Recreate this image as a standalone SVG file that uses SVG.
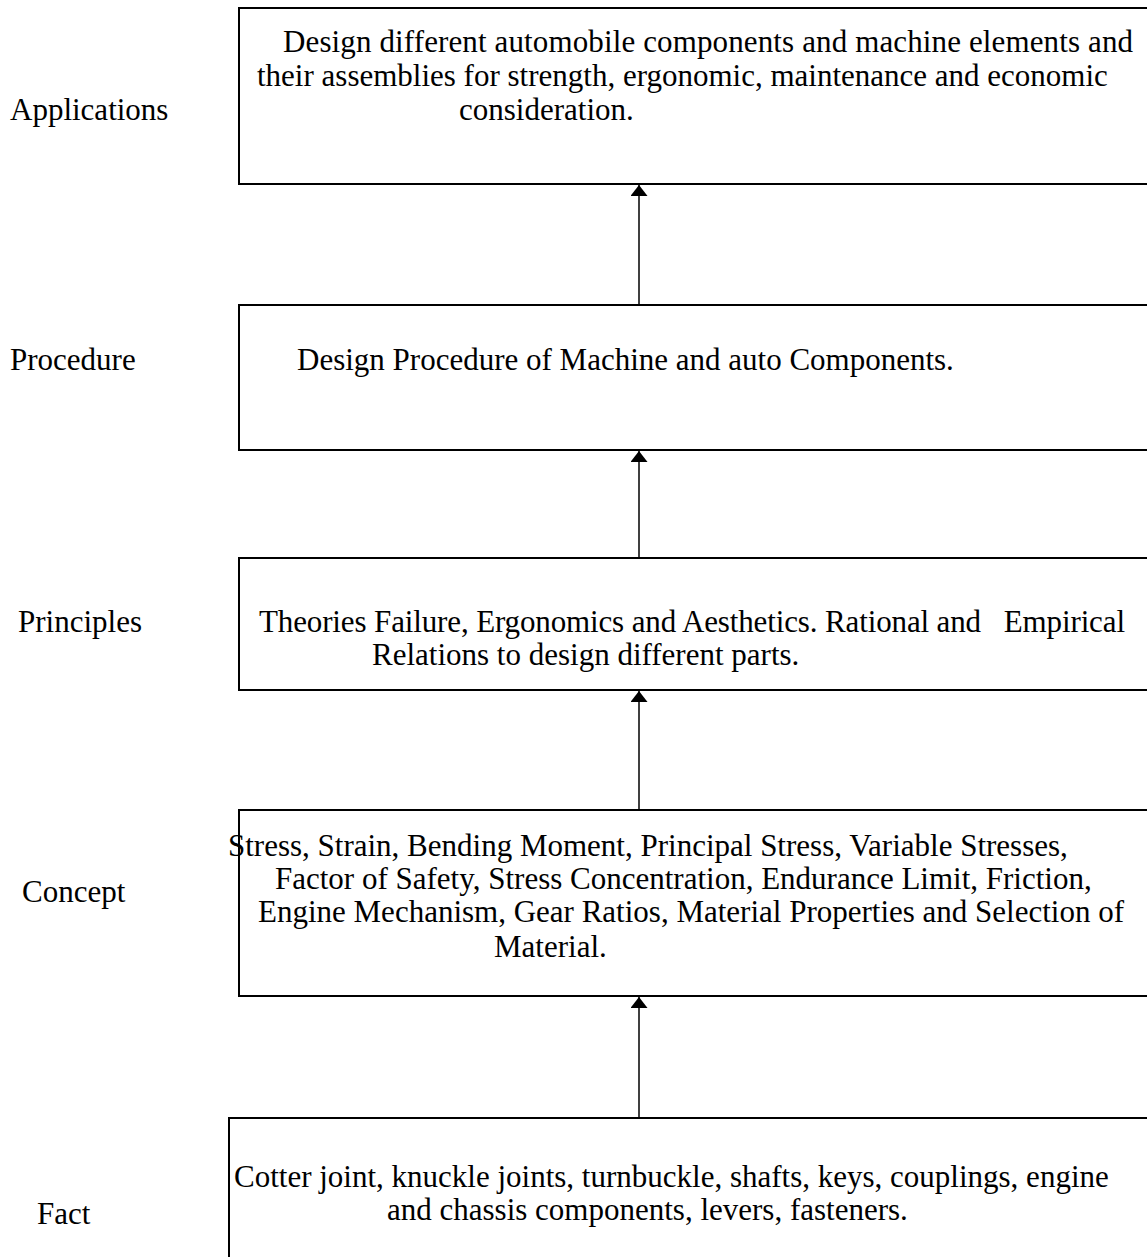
<svg xmlns="http://www.w3.org/2000/svg" width="1147" height="1257" viewBox="0 0 1147 1257">
<defs>
<style>
text{font-family:"Liberation Serif","Times New Roman",serif;font-size:31px;fill:#000;white-space:pre}
.box{fill:#fff;stroke:#000;stroke-width:2}
.conn{stroke:#000;stroke-width:1.5;fill:none}
</style>
<marker id="ah" viewBox="0 0 11 17" refX="11" refY="8.5" markerWidth="11" markerHeight="17" markerUnits="userSpaceOnUse" orient="auto">
<path d="M0,0 L11,8.5 L0,17 Z" fill="#000"/>
</marker>
</defs>
<rect width="1147" height="1257" fill="#fff"/>
<g id="labels">
<text x="10" y="120">Applications</text>
<text x="10" y="370">Procedure</text>
<text x="18" y="632">Principles</text>
<text x="22" y="902">Concept</text>
<text x="37" y="1224">Fact</text>
</g>
<g id="node-applications">
<rect class="box" x="239" y="8" width="920" height="176"/>
<text x="283" y="52" textLength="850" lengthAdjust="spacing">Design different automobile components and machine elements and</text>
<text x="257" y="86">their assemblies for strength, ergonomic, maintenance and economic</text>
<text x="459" y="120">consideration.</text>
</g>
<g id="node-procedure">
<rect class="box" x="239" y="305" width="920" height="145"/>
<text x="297" y="370">Design Procedure of Machine and auto Components.</text>
</g>
<g id="node-principles">
<rect class="box" x="239" y="558" width="920" height="132"/>
<text x="259" y="632" xml:space="preserve" textLength="866" lengthAdjust="spacing">Theories Failure, Ergonomics and Aesthetics. Rational and   Empirical</text>
<text x="372" y="665">Relations to design different parts.</text>
</g>
<g id="node-concept">
<rect class="box" x="239" y="810" width="920" height="186"/>
<text x="228" y="856">Stress, Strain, Bending Moment, Principal Stress, Variable Stresses,</text>
<text x="275" y="889">Factor of Safety, Stress Concentration, Endurance Limit, Friction,</text>
<text x="258" y="922">Engine Mechanism, Gear Ratios, Material Properties and Selection of</text>
<text x="494" y="957">Material.</text>
</g>
<g id="node-fact">
<rect class="box" x="229" y="1118" width="930" height="160"/>
<text x="234" y="1187">Cotter joint, knuckle joints, turnbuckle, shafts, keys, couplings, engine</text>
<text x="387" y="1220">and chassis components, levers, fasteners.</text>
</g>
<g id="connectors">
<line class="conn" x1="639" y1="1118" x2="639" y2="997" marker-end="url(#ah)"/>
<line class="conn" x1="639" y1="810" x2="639" y2="691" marker-end="url(#ah)"/>
<line class="conn" x1="639" y1="558" x2="639" y2="451" marker-end="url(#ah)"/>
<line class="conn" x1="639" y1="305" x2="639" y2="185" marker-end="url(#ah)"/>
</g>
</svg>
